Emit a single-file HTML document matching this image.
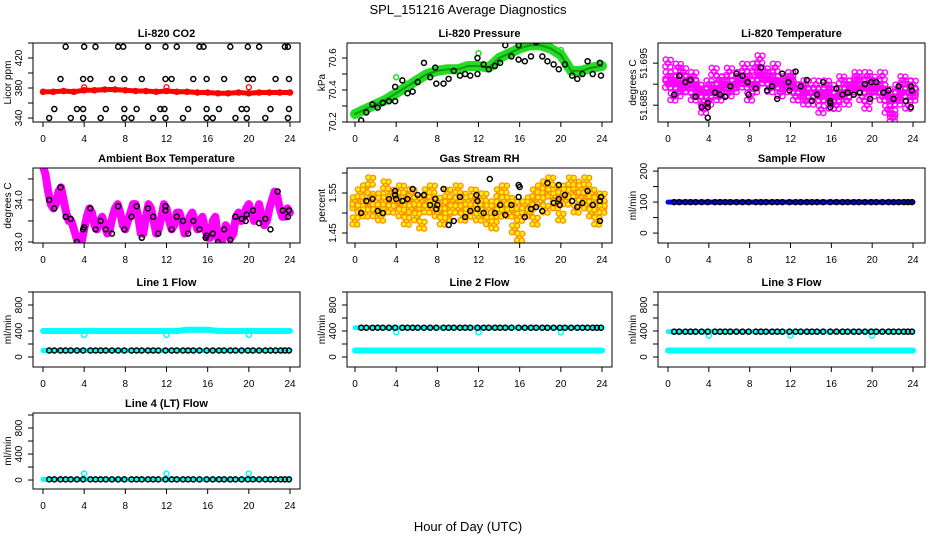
<!DOCTYPE html>
<html><head><meta charset="utf-8">
<style>
html,body{margin:0;padding:0;background:#fff;}
svg{display:block;font-family:"Liberation Sans",sans-serif;}
</style></head>
<body>
<svg id="chart" width="936" height="540" viewBox="0 0 936 540">
<text x="468" y="14" text-anchor="middle" font-size="13">SPL_151216  Average Diagnostics</text>
<text x="468" y="531" text-anchor="middle" font-size="13">Hour of Day (UTC)</text>
</svg>
<script>
// ---------- data ----------
const xTicks = [0,4,8,12,16,20,24];
const co2BandHours = [0,1,2,3,4,5,6,7,8,9,10,11,12,13,14,15,16,17,18,19,20,21,22,23,24];
const co2Band = [375,375,376,375,377,377,378,378,377,376,376,375,376,375,375,374,374,373,373,374,373,374,374,374,374];
const co2BlackHours = [2.2,4,5.1,7.3,7.8,10.2,11.9,13,15.2,15.6,18.2,19.9,21,23.5,23.8, 1.7,3.9,4.6,6.7,7.9,9.6,11.9,12.5,14.6,15.9,17.6,19.9,20.4,22.6,23.9, 1.1,3.3,3.9,6.1,7.9,9.1,11.4,11.8,14.1,15.9,17.1,19.3,19.8,22.1,23.9, 0.6,2.7,3.9,5.6,7.9,8.6,10.7,11.9,13.6,15.9,16.5,18.7,19.8,21.6,23.8];
const co2Black = [435,435,435,435,435,435,435,435,435,435,435,435,435,435,435, 392,392,392,392,392,392,392,392,392,392,392,392,392,392,392, 352,352,352,352,352,352,352,352,352,352,352,352,352,352,352, 340,340,340,340,340,340,340,340,340,340,340,340,340,340,340];
const spikeHours = [4,12,20];
const co2Spikes = [381,381,381];

const presBand = [70.25,70.28,70.31,70.34,70.38,70.42,70.46,70.50,70.52,70.53,70.53,70.55,70.55,70.54,70.60,70.63,70.66,70.68,70.68,70.66,70.62,70.52,70.52,70.54,70.55];
const presSpikes = [70.48,70.63,70.65];
const presBlackHours = [0.6,1.1,1.7,2.2,2.7,3.3,3.9,3.9,4.6,5.1,5.6,6.1,6.7,7.3,7.9,7.8,8.6,9.1,9.6,10.2,10.7,11.2,11.9,11.9,12.5,13,13.6,14.1,14.6,15.2,15.9,15.9,16.5,17.1,17.6,18.2,18.7,19.3,19.8,20.4,21.1,21.6,22.1,22.6,23.1,23.8,23.9];
const presBlack = [70.21,70.26,70.31,70.29,70.32,70.33,70.33,70.42,70.46,70.38,70.39,70.45,70.57,70.48,70.44,70.54,70.44,70.47,70.52,70.49,70.50,70.49,70.50,70.60,70.56,70.53,70.55,70.57,70.68,70.61,70.59,70.68,70.58,70.61,70.70,70.61,70.58,70.56,70.53,70.56,70.49,70.47,70.50,70.58,70.50,70.57,70.49];

const halfHours = [0,0.5,1,1.5,2,2.5,3,3.5,4,4.5,5,5.5,6,6.5,7,7.5,8,8.5,9,9.5,10,10.5,11,11.5,12,12.5,13,13.5,14,14.5,15,15.5,16,16.5,17,17.5,18,18.5,19,19.5,20,20.5,21,21.5,22,22.5,23,23.5,24];
const liTempA = [51.692,51.690,51.688,51.693,51.691,51.687,51.689,51.684,51.686,51.688,51.691,51.689,51.688,51.690,51.692,51.690,51.687,51.689,51.696,51.693,51.692,51.694,51.690,51.689,51.691,51.687,51.689,51.690,51.686,51.688,51.684,51.687,51.689,51.685,51.688,51.686,51.690,51.692,51.687,51.685,51.691,51.689,51.687,51.684,51.682,51.686,51.688,51.690,51.687];
const liTempB = [51.695,51.687,51.694,51.691,51.689,51.692,51.688,51.686,51.690,51.693,51.687,51.691,51.693,51.689,51.691,51.694,51.692,51.694,51.693,51.691,51.689,51.690,51.688,51.691,51.692,51.689,51.687,51.686,51.688,51.690,51.688,51.690,51.685,51.687,51.691,51.690,51.689,51.691,51.690,51.692,51.688,51.690,51.692,51.688,51.683,51.689,51.691,51.685,51.690];
const liTempC = [51.690,51.691,51.690,51.689,51.690,51.690,51.689,51.688,51.688,51.689,51.689,51.690,51.690,51.690,51.691,51.691,51.690,51.690,51.692,51.691,51.691,51.691,51.690,51.690,51.690,51.689,51.689,51.688,51.688,51.688,51.687,51.688,51.687,51.687,51.688,51.688,51.689,51.689,51.689,51.689,51.689,51.689,51.689,51.687,51.686,51.687,51.688,51.688,51.688];
const liTempBlackHours = [0.6,1.1,1.7,2.2,2.7,3.3,3.9,3.9,3.9,4.6,5.1,5.6,6.1,6.7,7.3,7.8,7.9,8.6,9.1,9.7,10.2,10.7,11.2,11.8,11.9,12.5,13,13.6,14.1,14.6,15.2,15.9,15.9,15.9,16.5,17.1,17.6,18.2,18.8,19.3,19.8,19.9,20.4,21.1,21.6,22.1,22.6,23.3,23.8,23.8,23.9];
const liTempBlack = [51.6875,51.692,51.6905,51.691,51.687,51.6845,51.6845,51.6855,51.682,51.688,51.6875,51.687,51.6895,51.6925,51.692,51.6905,51.6875,51.689,51.694,51.6885,51.6895,51.6865,51.6925,51.6905,51.6885,51.693,51.6895,51.691,51.686,51.6875,51.6905,51.6855,51.6845,51.686,51.689,51.6875,51.688,51.6875,51.688,51.690,51.6865,51.6905,51.6905,51.688,51.6885,51.6865,51.6895,51.686,51.6895,51.6845,51.6885];

const quarterHours = [0,0.25,0.5,0.75,1,1.25,1.5,1.75,2,2.25,2.5,2.75,3,3.25,3.5,3.75,4,4.25,4.5,4.75,5,5.25,5.5,5.75,6,6.25,6.5,6.75,7,7.25,7.5,7.75,8,8.25,8.5,8.75,9,9.25,9.5,9.75,10,10.25,10.5,10.75,11,11.25,11.5,11.75,12,12.25,12.5,12.75,13,13.25,13.5,13.75,14,14.25,14.5,14.75,15,15.25,15.5,15.75,16,16.25,16.5,16.75,17,17.25,17.5,17.75,18,18.25,18.5,18.75,19,19.25,19.5,19.75,20,20.25,20.5,20.75,21,21.25,21.5,21.75,22,22.25,22.5,22.75,23,23.25,23.5,23.75,24];
const ambBand = [34.8,34.6,34.2,33.9,33.8,33.9,34.2,34.3,34.0,33.7,33.5,33.5,33.3,33.1,32.9,33.0,33.3,33.6,33.8,33.7,33.4,33.3,33.5,33.6,33.4,33.2,33.3,33.6,33.8,33.9,33.7,33.4,33.3,33.5,33.7,33.9,33.9,33.6,33.2,33.2,33.6,33.9,33.8,33.5,33.2,33.3,33.6,33.9,33.8,33.5,33.3,33.4,33.7,33.7,33.5,33.2,33.3,33.6,33.7,33.5,33.3,33.5,33.6,33.3,33.1,33.1,33.5,33.6,33.1,32.9,33.1,33.4,33.3,33.1,33.2,33.6,33.7,33.5,33.6,33.8,33.9,33.7,33.5,33.7,33.9,33.6,33.4,33.5,33.8,34.0,34.2,34.1,33.8,33.6,33.6,33.8,33.7];
const ambBlackHours = [0.6,1.1,1.7,2.2,2.7,3.3,3.9,4,4.6,5.1,5.6,6.1,6.7,7.3,7.9,8.6,9.1,9.6,10.2,10.7,11.2,11.9,11.9,12.5,13,13.6,14.1,14.6,15.2,15.8,15.9,16.5,17,17.6,18.2,18.7,19.3,19.7,19.8,20.4,21,21.6,22.1,22.8,23.3,23.8,23.9];
const ambBlack = [34.0,33.8,34.3,33.6,33.55,33.0,33.3,33.35,33.8,33.3,33.5,33.3,33.2,33.85,33.3,33.6,33.85,33.1,33.8,33.6,33.2,33.85,33.75,33.3,33.6,33.5,33.2,33.5,33.3,33.1,33.15,33.2,33.0,33.3,33.05,33.6,33.55,33.5,33.65,33.75,33.45,33.55,33.3,34.2,33.75,33.6,33.75];

const rhA = [1.53,1.51,1.56,1.52,1.50,1.54,1.53,1.55,1.52,1.50,1.54,1.51,1.49,1.53,1.55,1.51,1.50,1.52,1.49,1.53,1.51,1.54,1.50,1.52,1.53,1.50,1.48,1.52,1.55,1.53,1.50,1.46,1.49,1.51,1.53,1.55,1.56,1.57,1.55,1.54,1.56,1.53,1.55,1.57,1.54,1.52,1.55,1.53,1.51];
const rhB = [1.48,1.55,1.50,1.58,1.53,1.49,1.57,1.51,1.54,1.56,1.48,1.55,1.53,1.47,1.51,1.56,1.53,1.48,1.55,1.51,1.56,1.49,1.53,1.55,1.49,1.54,1.51,1.47,1.50,1.56,1.53,1.52,1.44,1.52,1.50,1.48,1.53,1.51,1.58,1.52,1.49,1.55,1.58,1.51,1.56,1.58,1.50,1.48,1.54];
const rhC = [1.52,1.53,1.52,1.54,1.51,1.52,1.53,1.52,1.53,1.52,1.51,1.52,1.51,1.52,1.53,1.52,1.51,1.51,1.52,1.51,1.52,1.51,1.52,1.51,1.52,1.51,1.51,1.52,1.51,1.52,1.51,1.50,1.49,1.51,1.52,1.53,1.54,1.55,1.55,1.54,1.55,1.54,1.55,1.55,1.54,1.53,1.54,1.53,1.52];
const rhBlackHours = [0.6,1.1,1.7,2.2,2.7,3.3,3.9,3.9,4,4.6,5.1,5.6,6.1,6.7,7.3,7.8,7.9,8,8.6,9.1,9.6,10.2,10.7,11.2,11.8,11.9,11.9,12.5,13.1,13.6,14.1,14.6,15.2,15.9,15.9,16,16.5,17.1,17.6,18.2,18.7,19.3,19.8,19.8,19.9,20.4,21.1,21.6,22.1,22.6,23.1,23.8,23.8,23.9];
const rhBlack = [1.50,1.53,1.535,1.505,1.50,1.535,1.555,1.545,1.535,1.53,1.535,1.56,1.545,1.545,1.52,1.535,1.51,1.52,1.56,1.47,1.48,1.54,1.49,1.505,1.545,1.51,1.53,1.50,1.585,1.50,1.52,1.495,1.52,1.57,1.54,1.565,1.49,1.51,1.515,1.505,1.575,1.525,1.57,1.535,1.52,1.545,1.53,1.515,1.525,1.555,1.52,1.53,1.48,1.54];

const flowHours = [0.6,1.1,1.7,2.2,2.7,3.3,3.9,4.6,5.1,5.6,6.1,6.7,7.3,7.9,8.6,9.1,9.6,10.2,10.7,11.2,11.9,12.5,13,13.6,14.1,14.6,15.2,15.9,16.5,17.1,17.6,18.2,18.7,19.3,19.9,20.4,21,21.6,22.1,22.6,23.1,23.5,23.9];
const sampleBand = [100,100,100,100,100,100,100,100,100,100,100,100,100,100,100,100,100,100,100,100,100,100,100,100,100];
const sampleBlack = [100,100,100,100,100,100,100,100,100,100,100,100,100,100,100,100,100,100,100,100,100,100,100,100,100,100,100,100,100,100,100,100,100,100,100,100,100,100,100,100,100,100,100];
const line1Cyan = [400,400,400,400,400,400,400,400,400,400,400,400,400,400,420,420,420,400,400,400,400,400,400,400,400];
const line1CyanLow = [100,100,100,100,100,100,100,100,100,100,100,100,100,100,100,100,100,100,100,100,100,100,100,100,100];
const line1Spikes = [340,340,340];
const line1Black = [100,100,100,100,100,100,100,100,100,100,100,100,100,100,100,100,100,100,100,100,100,100,100,100,100,100,100,100,100,100,100,100,100,100,100,100,100,100,100,100,100,100,100];
const line2Cyan = [100,100,100,100,100,100,100,100,100,100,100,100,100,100,100,100,100,100,100,100,100,100,100,100,100];
const line2CyanHigh = [450,450,450,450,450,450,450,450,450,450,450,450,450,450,450,450,450,450,450,450,450,450,450,450,450];
const line2Spikes = [380,380,380];
const line2Black = [450,450,450,450,450,450,450,450,450,450,450,450,450,450,450,450,450,450,450,450,450,450,450,450,450,450,450,450,450,450,450,450,450,450,450,450,450,450,450,450,450,450,450];
const line3Cyan = [100,100,100,100,100,100,100,100,100,100,100,100,100,100,100,100,100,100,100,100,100,100,100,100,100];
const line3CyanHigh = [390,390,390,390,390,390,390,390,390,390,390,390,390,390,390,390,390,390,390,390,390,390,390,390,390];
const line3Spikes = [330,330,330];
const line3Black = [390,390,390,390,390,390,390,390,390,390,390,390,390,390,390,390,390,390,390,390,390,390,390,390,390,390,390,390,390,390,390,390,390,390,390,390,390,390,390,390,390,390,390];
const line4Cyan = [10,10,10,10,10,10,10,10,10,10,10,10,10,10,10,10,10,10,10,10,10,10,10,10,10];
const line4Spikes = [100,100,100];
const line4Black = [10,10,10,10,10,10,10,10,10,10,10,10,10,10,10,10,10,10,10,10,10,10,10,10,10,10,10,10,10,10,10,10,10,10,10,10,10,10,10,10,10,10,10];
const flowTicks = [0,200,400,600,800,1000];
const flowLabels = [0,400,800];

// ---------- drawing ----------
const NS = "http://www.w3.org/2000/svg";
const svg = document.getElementById('chart');
function mk(tag, attrs, parent){
  const e = document.createElementNS(NS, tag);
  for (const k in attrs) e.setAttribute(k, attrs[k]);
  (parent||svg).appendChild(e);
  return e;
}
function makePanel(o){
  const g = mk('g', {});
  
  
  const clipId = 'clip-' + o.name;
  const cp = mk('clipPath', {id: clipId}, g);
  mk('rect', {x: o.left, y: o.top, width: o.right-o.left, height: o.bottom-o.top}, cp);
  const x = h => o.x0 + (h/24)*(o.x24 - o.x0);
  const y = v => o.bottom - (v - o.ymin)/(o.ymax - o.ymin)*(o.bottom - o.top);
  const marks = mk('g', {'clip-path': 'url(#' + clipId + ')'}, g);
  
  
  const t = mk('text', {x: (o.left+o.right)/2, y: o.top-6, 'text-anchor':'middle', 'font-size':11, 'font-weight':'bold'}, g);
  t.textContent = o.title;
  
  
  const box = mk('rect', {x:o.left, y:o.top, width:o.right-o.left, height:o.bottom-o.top, fill:'none', stroke:'#000', 'stroke-width':1}, g);
  
  
  xTicks.forEach(h => {
    mk('line', {x1:x(h), x2:x(h), y1:o.bottom, y2:o.bottom+5, stroke:'#000'}, g);
    const l = mk('text', {x:x(h), y:o.bottom+20, 'text-anchor':'middle', 'font-size':10}, g);
    l.textContent = h;
    
    
  });
  o.yTicks.forEach(v => {
    mk('line', {x1:o.left-5, x2:o.left, y1:y(v), y2:y(v), stroke:'#000'}, g);
  });
  o.yLabels.forEach((v,i) => {
    const txt = o.yLabelText ? o.yLabelText[i] : String(v);
    const l = mk('text', {x:0, y:0, 'text-anchor':'middle', 'font-size':10, transform:'translate(' + (o.left-11) + ',' + y(v) + ') rotate(-90)'}, g);
    l.textContent = txt;
    
    
  });
  const yt = mk('text', {x:0, y:0, 'text-anchor':'middle', 'font-size':10, transform:'translate(' + (o.left-22) + ',' + ((o.top+o.bottom)/2) + ') rotate(-90)'}, g);
  yt.textContent = o.ylab;
  
  
  return {g: marks, x, y};
}
function band(p, hours, vals, color, w){
  const pts = hours.map((h,i) => p.x(h) + ',' + p.y(vals[i])).join(' ');
  const pl = mk('polyline', {points: pts, fill:'none', stroke:color, 'stroke-width':w, 'stroke-linejoin':'round', 'stroke-linecap':'round'}, p.g);
  
  
}
function pts(p, hours, vals, stroke, fill, r, sw){
  hours.forEach((h,i) => {
    const c = mk('circle', {cx:p.x(h), cy:p.y(vals[i]), r:r, fill:fill, stroke:stroke, 'stroke-width':sw}, p.g);
    
    
  });
}
// cloud: each data value drawn as a small cluster of markers (pixel offsets are styling only)
const clusterOffsets = [[0,0],[2.6,-3.2],[-2.6,3.2],[2.2,3.6],[-2.2,-3.6]];
function cloud(p, hours, vals, stroke, fill, r, sw){
  hours.forEach((h,i) => {
    const cx = p.x(h), cy = p.y(vals[i]);
    clusterOffsets.forEach(o => {
      const c = mk('circle', {cx:cx+o[0], cy:cy+o[1], r:r, fill:fill, stroke:stroke, 'stroke-width':sw}, p.g);
      
      
    });
  });
}
const C1 = {left:33, right:300, x0:43, x24:290};
const C2 = {left:347, right:612, x0:355, x24:602};
const C3 = {left:658, right:925, x0:668, x24:913};
const R1 = {top:43, bottom:122}, R2 = {top:168, bottom:243}, R3 = {top:292, bottom:367}, R4 = {top:413, bottom:489};

let p = makePanel(Object.assign({name:'co2-panel', title:'Li-820 CO2', ylab:'Licor ppm', ymin:334.7, ymax:440, yTicks:[340,360,380,400,420,440], yLabels:[340,380,420]}, C1, R1));
band(p, co2BandHours, co2Band, '#ff0000', 5);
pts(p, co2BandHours, co2Band, '#ff0000', 'none', 2.5, 1.5);
pts(p, spikeHours, co2Spikes, '#ff0000', 'none', 2.5, 1.3);
pts(p, co2BlackHours, co2Black, '#000', 'none', 2.5, 1.5);

p = makePanel(Object.assign({name:'pressure-panel', title:'Li-820 Pressure', ylab:'kPa', ymin:70.2, ymax:70.694, yTicks:[70.2,70.3,70.4,70.5,70.6], yLabels:[70.2,70.4,70.6], yLabelText:['70.2','70.4','70.6']}, C2, R1));
band(p, co2BandHours, presBand, '#22dd22', 10);
band(p, co2BandHours, presBand, '#119911', 2);
pts(p, spikeHours, presSpikes, '#22dd22', 'none', 2.5, 1.5);
pts(p, presBlackHours, presBlack, '#000', 'none', 2.5, 1.5);

p = makePanel(Object.assign({name:'li820-temperature-panel', title:'Li-820 Temperature', ylab:'degrees C', ymin:51.681, ymax:51.6998, yTicks:[51.685,51.69,51.695], yLabels:[51.685,51.695], yLabelText:['51.685','51.695']}, C3, R1));
cloud(p, halfHours, liTempC, '#ff00ff', 'none', 2.8, 1.6);
cloud(p, halfHours, liTempA, '#ff00ff', 'none', 2.6, 1.4);
cloud(p, halfHours, liTempB, '#ff00ff', 'none', 2.6, 1.4);
pts(p, liTempBlackHours, liTempBlack, '#000', 'none', 2.5, 1.5);

p = makePanel(Object.assign({name:'ambient-temperature-panel', title:'Ambient Box Temperature', ylab:'degrees C', ymin:32.976, ymax:34.76, yTicks:[33,33.5,34,34.5], yLabels:[33,34], yLabelText:['33.0','34.0']}, C1, R2));
band(p, quarterHours, ambBand, '#ff00ff', 8);
pts(p, ambBlackHours, ambBlack, '#000', 'none', 2.5, 1.5);

p = makePanel(Object.assign({name:'gas-stream-rh-panel', title:'Gas Stream RH', ylab:'percent', ymin:1.425, ymax:1.6125, yTicks:[1.45,1.5,1.55,1.6], yLabels:[1.45,1.55], yLabelText:['1.45','1.55']}, C2, R2));
cloud(p, halfHours, rhC, '#ff9900', '#ffdd00', 2.6, 1.2);
cloud(p, halfHours, rhA, '#ff8800', '#ffee00', 2.6, 1.2);
cloud(p, halfHours, rhB, '#ff8800', '#ffee00', 2.6, 1.2);
pts(p, rhBlackHours, rhBlack, '#000', 'none', 2.5, 1.5);

p = makePanel(Object.assign({name:'sample-flow-panel', title:'Sample Flow', ylab:'ml/min', ymin:-32, ymax:210, yTicks:[0,50,100,150,200], yLabels:[0,100,200]}, C3, R2));
band(p, co2BandHours, sampleBand, '#0000ff', 5);
pts(p, flowHours, sampleBlack, '#000', 'none', 2.5, 1.5);

p = makePanel(Object.assign({name:'line1-flow-panel', title:'Line 1 Flow', ylab:'ml/min', ymin:-154, ymax:1000, yTicks:flowTicks, yLabels:flowLabels}, C1, R3));
band(p, co2BandHours, line1Cyan, '#00ffff', 6);
band(p, co2BandHours, line1CyanLow, '#00ffff', 5);
pts(p, spikeHours, line1Spikes, '#00ffff', 'none', 2.5, 1.5);
pts(p, flowHours, line1Black, '#000', 'none', 2.5, 1.5);

p = makePanel(Object.assign({name:'line2-flow-panel', title:'Line 2 Flow', ylab:'ml/min', ymin:-154, ymax:1000, yTicks:flowTicks, yLabels:flowLabels}, C2, R3));
band(p, co2BandHours, line2Cyan, '#00ffff', 6);
band(p, co2BandHours, line2CyanHigh, '#00ffff', 5);
pts(p, spikeHours, line2Spikes, '#00ffff', 'none', 2.5, 1.5);
pts(p, flowHours, line2Black, '#000', 'none', 2.5, 1.5);

p = makePanel(Object.assign({name:'line3-flow-panel', title:'Line 3 Flow', ylab:'ml/min', ymin:-154, ymax:1000, yTicks:flowTicks, yLabels:flowLabels}, C3, R3));
band(p, co2BandHours, line3Cyan, '#00ffff', 6);
band(p, co2BandHours, line3CyanHigh, '#00ffff', 5);
pts(p, spikeHours, line3Spikes, '#00ffff', 'none', 2.5, 1.5);
pts(p, flowHours, line3Black, '#000', 'none', 2.5, 1.5);

p = makePanel(Object.assign({name:'line4-flow-panel', title:'Line 4 (LT) Flow', ylab:'ml/min', ymin:-138, ymax:1031, yTicks:flowTicks, yLabels:flowLabels}, C1, R4));
band(p, co2BandHours, line4Cyan, '#00ffff', 5);
pts(p, spikeHours, line4Spikes, '#00ffff', 'none', 2.5, 1.5);
pts(p, flowHours, line4Black, '#000', 'none', 2.5, 1.5);
</script>
</body></html>
